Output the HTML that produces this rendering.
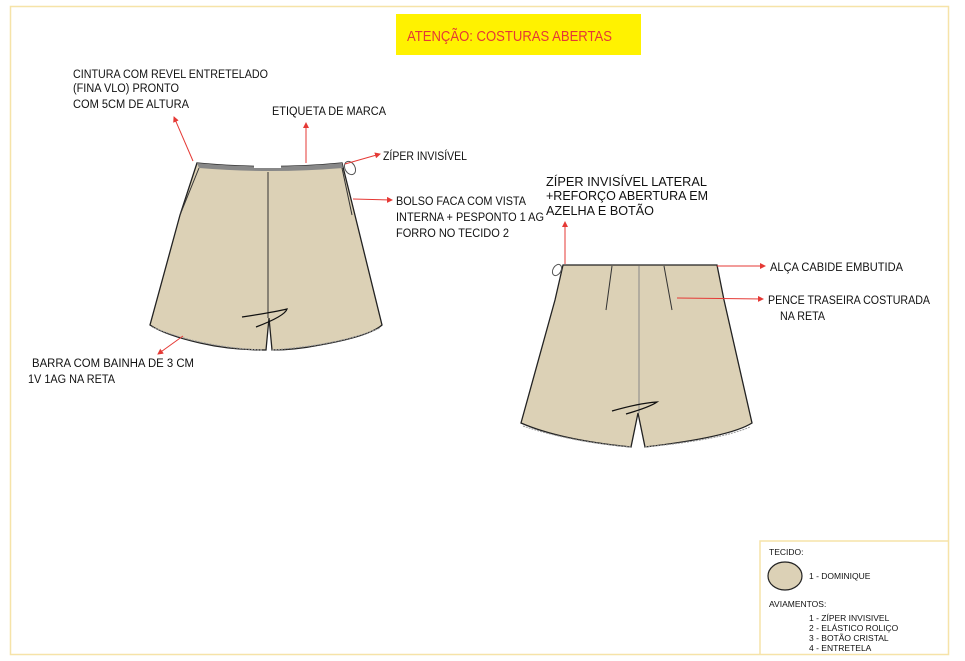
<!DOCTYPE html>
<html><head><meta charset="utf-8"><style>
body{margin:0;background:#fff;}
svg{display:block;font-family:"Liberation Sans",sans-serif;}
</style></head><body>
<svg width="965" height="661" viewBox="0 0 965 661" xmlns="http://www.w3.org/2000/svg">
<defs><marker id="a" markerWidth="6" markerHeight="6" refX="5" refY="3" orient="auto"><path d="M0,0 L6,3 L0,6 z" fill="#e53935"/></marker></defs>
<rect x="10.5" y="6.5" width="938" height="648" fill="#fff" stroke="#f6e3a8" stroke-width="1.5"/>
<rect x="396" y="14" width="245" height="41" fill="#fff200"/>
<text x="407" y="41" font-size="15" fill="#e53935" textLength="205" lengthAdjust="spacingAndGlyphs">ATENÇÃO: COSTURAS ABERTAS</text>

<!-- front shorts -->
<path d="M197,163 Q270,170 342,163 L350,195 L382,325 Q370,336 320,345 Q295,350 272,350 L269,318 L266,350 Q230,350 200,343 Q165,335 150,325 L180,215 Z" fill="#dcd1b6" stroke="#222" stroke-width="1.3"/>
<path d="M197,163 Q270,170 342,163 L343,168 Q270,174 199,168 Z" fill="#888"/>
<rect x="254" y="163" width="27" height="5" fill="#fff"/>
<path d="M268,172 L268,318" stroke="#333" fill="none"/>
<path d="M199,168 L180,215 M342,168 L352,215" stroke="#333" fill="none"/>
<path d="M242,317 Q275,312 287,309 Q285,316 256,327" stroke="#111" fill="none" stroke-width="1.3"/>
<ellipse cx="350" cy="168" rx="5" ry="7" fill="none" stroke="#555" transform="rotate(-30 350 168)"/>
<path d="M152,327 Q200,347 262,350 M272,350 Q340,345 380,328" stroke="#999" stroke-dasharray="2 1" fill="none"/>

<!-- back shorts -->
<path d="M563,265 L717,265 L724,300 L752,423 Q730,437 645,447 L638,413 L631,447 Q560,440 521,423 L555,300 Z" fill="#dcd1b6" stroke="#222" stroke-width="1.3"/>
<path d="M639,266 L639,413" stroke="#888" fill="none"/>
<path d="M612,266 L606,310 M664,266 L672,310" stroke="#333" fill="none"/>
<path d="M612,411 Q640,403 657,402 Q650,407 626,414" stroke="#111" fill="none" stroke-width="1.3"/>
<ellipse cx="557" cy="270" rx="4" ry="6" fill="none" stroke="#555" transform="rotate(30 557 270)"/>
<path d="M523,426 Q570,442 631,447 M645,447 Q720,440 750,427" stroke="#999" stroke-dasharray="2 1" fill="none"/>

<!-- arrows -->
<g stroke="#e53935" stroke-width="1" fill="none" marker-end="url(#a)">
<line x1="193" y1="161" x2="174" y2="117"/>
<line x1="306" y1="163" x2="306" y2="123"/>
<line x1="345" y1="164" x2="380" y2="154"/>
<line x1="353" y1="199" x2="392" y2="200"/>
<line x1="183" y1="336" x2="158" y2="354"/>
<line x1="565" y1="264" x2="565" y2="222"/>
<line x1="717" y1="266" x2="765" y2="266"/>
<line x1="677" y1="298" x2="763" y2="299"/>
</g>

<g font-size="11.5" fill="#111" lengthAdjust="spacingAndGlyphs">
<text x="73" y="78" textLength="195" lengthAdjust="spacingAndGlyphs">CINTURA COM REVEL ENTRETELADO</text>
<text x="73" y="92" textLength="106" lengthAdjust="spacingAndGlyphs">(FINA VLO) PRONTO</text>
<text x="73" y="108" textLength="116" lengthAdjust="spacingAndGlyphs">COM 5CM DE ALTURA</text>
<text x="272" y="115" textLength="114" lengthAdjust="spacingAndGlyphs">ETIQUETA DE MARCA</text>
<text x="383" y="160" textLength="84" lengthAdjust="spacingAndGlyphs">ZÍPER INVISÍVEL</text>
<text x="396" y="205" textLength="130" lengthAdjust="spacingAndGlyphs">BOLSO FACA COM VISTA</text>
<text x="396" y="221" textLength="148" lengthAdjust="spacingAndGlyphs">INTERNA + PESPONTO 1 AG</text>
<text x="396" y="237" textLength="113" lengthAdjust="spacingAndGlyphs">FORRO  NO TECIDO 2</text>
<text x="32" y="367" textLength="162" lengthAdjust="spacingAndGlyphs">BARRA  COM BAINHA  DE 3 CM</text>
<text x="28" y="383" textLength="87" lengthAdjust="spacingAndGlyphs">1V 1AG NA RETA</text>
<text x="546" y="186" font-size="12.5" textLength="161" lengthAdjust="spacingAndGlyphs">ZÍPER INVISÍVEL  LATERAL</text>
<text x="546" y="200" font-size="12.5" textLength="162" lengthAdjust="spacingAndGlyphs">+REFORÇO ABERTURA EM</text>
<text x="546" y="215" font-size="12.5" textLength="108" lengthAdjust="spacingAndGlyphs">AZELHA E BOTÃO</text>
<text x="770" y="271" textLength="133" lengthAdjust="spacingAndGlyphs">ALÇA CABIDE EMBUTIDA</text>
<text x="768" y="304" textLength="162" lengthAdjust="spacingAndGlyphs">PENCE TRASEIRA COSTURADA</text>
<text x="780" y="320" textLength="45" lengthAdjust="spacingAndGlyphs">NA RETA</text>
</g>

<!-- legend -->
<path d="M760,655 L760,541 L948,541" fill="none" stroke="#f6e3a8" stroke-width="1.5"/>
<g font-size="8.5" fill="#111">
<text x="769" y="555">TECIDO:</text>
<ellipse cx="785" cy="576" rx="17" ry="14" fill="#dcd1b6" stroke="#222" stroke-width="1.2"/>
<text x="809" y="579">1 - DOMINIQUE</text>
<text x="769" y="607">AVIAMENTOS:</text>
<text x="809" y="621">1 - ZÍPER INVISIVEL</text>
<text x="809" y="631">2 - ELÁSTICO ROLIÇO</text>
<text x="809" y="641">3 - BOTÃO CRISTAL</text>
<text x="809" y="651">4 - ENTRETELA</text>
</g>
</svg>
</body></html>
